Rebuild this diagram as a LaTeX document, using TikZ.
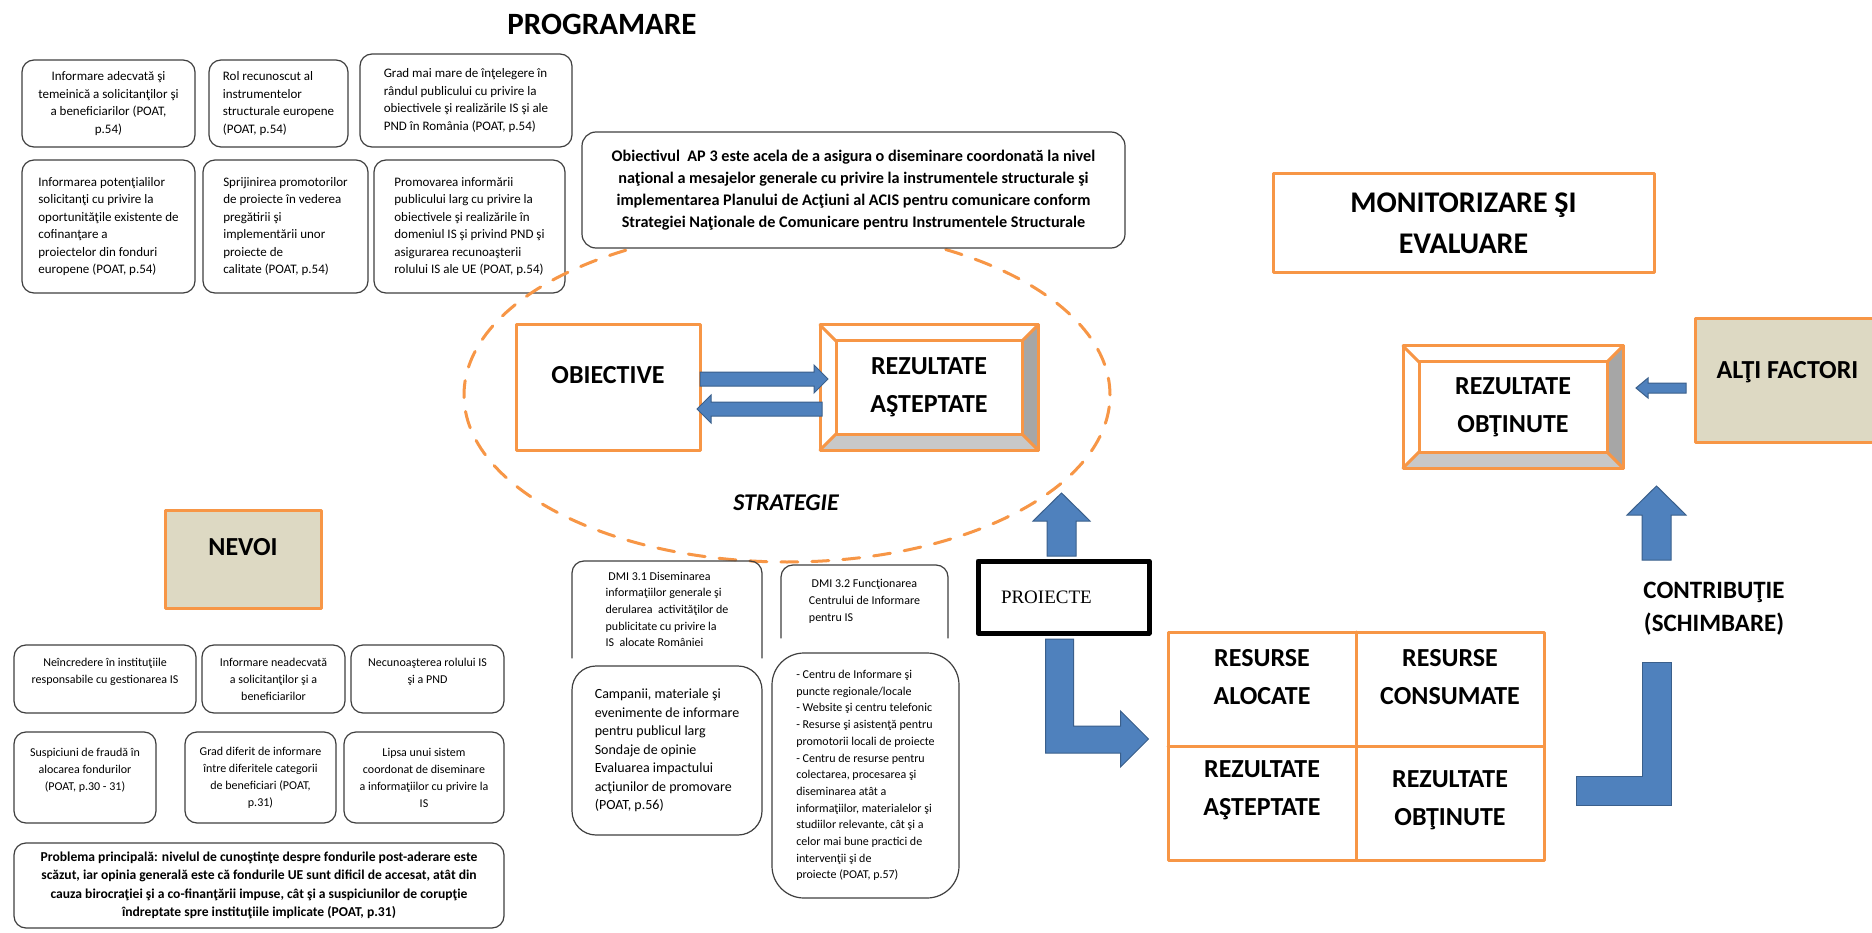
\documentclass[tikz,border=0pt]{standalone}
\usepackage{fontspec}
\setmainfont{Carlito}
\newfontfamily\projfont{Liberation Serif}
\usepackage{tikz}
\usetikzlibrary{calc}

\definecolor{boxorange}{HTML}{F79646}
\definecolor{arrowblue}{HTML}{4F81BD}
\definecolor{arrowedge}{HTML}{3A5F8B}
\definecolor{tanfill}{HTML}{DDD9C3}
\definecolor{bevelgray}{HTML}{A6A6A6}
\definecolor{bevellight}{HTML}{C8C8C8}
\definecolor{boxline}{HTML}{3F3F3F}

\newcommand{\smalltext}{\fontsize{13}{17.5}\selectfont}
\newcommand{\nevoitext}{\fontsize{12}{17}\selectfont}
\newcommand{\dmitext}{\fontsize{12}{16.7}\selectfont}
\newcommand{\bigbold}{\fontsize{26}{38}\selectfont\bfseries}

\tikzstyle{every node}=[outer sep=0pt]
\tikzstyle{every path}=[line cap=round,line join=round]
\tikzstyle{infobox}=[draw=boxline,line width=1.2pt,rounded corners=12pt,fill=white,font=\smalltext,inner sep=0pt]
\tikzstyle{orangebox}=[draw=boxorange,line width=3pt,fill=white,font=\bigbold,align=center,inner sep=0pt]
\tikzstyle{tanbox}=[orangebox,fill=tanfill]
\tikzstyle{orangeline}=[draw=boxorange,line width=3pt]
\tikzstyle{blockarrow}=[fill=arrowblue,draw=arrowedge,line width=1pt,line join=miter]

% bevelled frame round an orange box
\newcommand{\bevelframe}[1]{%
  \fill[bevelgray] (#1.north east) -- ($(#1.north east)+(-16,16)$)
    -- ($(#1.south east)+(-16,-16)$) -- (#1.south east) -- cycle;
  \fill[bevellight] (#1.south west) -- ($(#1.south west)+(16,-16)$)
    -- ($(#1.south east)+(-16,-16)$) -- (#1.south east) -- cycle;
  \draw[orangeline] (#1.north west) rectangle (#1.south east);
  \draw[orangeline] ($(#1.north west)+(16,16)$) rectangle ($(#1.south east)+(-16,-16)$);
  \draw[orangeline] (#1.north west) -- ++(16,16) (#1.north east) -- ++(-16,16)
    (#1.south west) -- ++(16,-16) (#1.south east) -- ++(-16,-16);
}

\begin{document}
\begin{tikzpicture}[x=1pt,y=-1pt]
  \fill[white] (0,0) rectangle (1872,933);
  \useasboundingbox (0,0) rectangle (1872,933);

  % Programare
  \node[font=\fontsize{31}{36}\selectfont\bfseries] (prog) at (602,24) {PROGRAMARE};

  \node[infobox,minimum width=173pt,minimum height=87pt,align=center] (a1) at (108.5,103.5)
  {Informare adecvată şi\\temeinică a solicitanţilor şi\\a beneficiarilor (POAT,\\p.54)};
  \node[infobox,minimum width=139pt,minimum height=87pt,align=left] (a2) at (278.5,103.5)
  {Rol recunoscut al\\instrumentelor\\structurale europene\\(POAT, p.54)};
  \node[infobox,minimum width=212pt,minimum height=93pt,align=left] (a3) at (466,100.5)
  {Grad mai mare de înţelegere în\\rândul publicului cu privire la\\obiectivele şi realizările IS şi ale\\PND în România (POAT, p.54)};

  \node[infobox,minimum width=173pt,minimum height=133pt,align=left] (b1) at (108.5,226.5)
  {Informarea potenţialilor\\solicitanţi cu privire la\\oportunităţile existente de\\cofinanţare a\\proiectelor din fonduri\\europene (POAT, p.54)};
  \node[infobox,minimum width=165pt,minimum height=133pt,align=left] (b2) at (285.5,226.5)
  {Sprijinirea promotorilor\\de proiecte în vederea\\pregătirii şi\\implementării unor\\proiecte de\\calitate (POAT, p.54)};
  \node[infobox,minimum width=191pt,minimum height=133pt,align=left] (b3) at (469.5,226.5)
  {Promovarea informării\\publicului larg cu privire la\\obiectivele şi realizările în\\domeniul IS şi privind PND şi\\asigurarea recunoaşterii\\rolului IS ale UE (POAT, p.54)};

  % Strategie
  \draw[boxorange,line width=3pt,dash pattern=on 17pt off 14pt]
  (787,395) ellipse [x radius=323pt,y radius=167pt];

  \node[infobox,rounded corners=14pt,minimum width=543pt,minimum height=116pt,align=center,
    font=\fontsize{16.2}{22}\selectfont\bfseries] (ap3) at (853.5,190)
  {Obiectivul\ \ AP 3 este acela de a asigura o diseminare coordonată la nivel\\naţional a mesajelor generale cu privire la instrumentele structurale şi\\implementarea Planului de Acţiuni al ACIS pentru comunicare conform\\Strategiei Naţionale de Comunicare pentru Instrumentele Structurale};

  \node[orangebox,minimum width=184pt,minimum height=125pt] (obj) at (608,387.5) {OBIECTIVE\\[-12pt]\mbox{}};
  \node[orangebox,minimum width=218pt,minimum height=125pt] (reza) at (929,387.5) {REZULTATE\\AŞTEPTATE};
  \bevelframe{reza}

  \draw[blockarrow] ($(obj.east)+(0,-15.5)$) -- ++(114,0) -- ++(0,-7) -- ++(14,14)
  -- ++(-14,14) -- ++(0,-7) -- ++(-114,0) -- cycle;
  \draw[blockarrow] ($(reza.west)+(2,14.5)$) -- ++(-111,0) -- ++(0,-7) -- ++(-14,14)
  -- ++(14,14) -- ++(0,-7) -- ++(111,0) -- cycle;

  \node[font=\fontsize{24}{28}\selectfont\bfseries\itshape] (strat) at (786,503) {STRATEGIE};

  % Nevoi
  \node[tanbox,minimum width=156pt,minimum height=98pt,font=\fontsize{26}{30}\selectfont\bfseries] (nevoi) at (243,559) {NEVOI\\[-6pt]\mbox{}};

  \node[infobox,font=\nevoitext,minimum width=182pt,minimum height=68pt,align=center] (c1) at (105,679)
  {Neîncredere în instituţiile\\responsabile cu gestionarea IS\\ \mbox{}};
  \node[infobox,font=\nevoitext,minimum width=143pt,minimum height=68pt,align=center] (c2) at (273.5,679)
  {Informare neadecvată\\a solicitanţilor şi a\\beneficiarilor};
  \node[infobox,font=\nevoitext,minimum width=153pt,minimum height=68pt,align=center] (c3) at (427.5,679)
  {Necunoaşterea rolului IS\\şi a PND\\ \mbox{}};

  \node[infobox,font=\nevoitext,minimum width=142pt,minimum height=91pt,align=center] (d1) at (85,777.5)
  {Suspiciuni de fraudă în\\alocarea fondurilor\\(POAT, p.30 - 31)\\ \mbox{}};
  \node[infobox,font=\nevoitext,minimum width=151pt,minimum height=91pt,align=center] (d2) at (260.5,777.5)
  {Grad diferit de informare\\între diferitele categorii\\de beneficiari (POAT,\\p.31)};
  \node[infobox,font=\nevoitext,minimum width=160pt,minimum height=91pt,align=center] (d3) at (424,777.5)
  {Lipsa unui sistem\\coordonat de diseminare\\a informaţiilor cu privire la\\IS};

  \node[infobox,minimum width=490pt,minimum height=85pt,align=center,
    font=\fontsize{13.6}{18.3}\selectfont\bfseries] (pb) at (259,885.5)
  {Problema principală: nivelul de cunoştinţe despre fondurile post-aderare este\\scăzut, iar opinia generală este că fondurile UE sunt dificil de accesat, atât din\\cauza birocraţiei şi a co-finanţării impuse, cât şi a suspiciunilor de corupţie\\îndreptate spre instituţiile implicate (POAT, p.31)};

  % DMI
  \node[font=\dmitext,align=left,minimum width=190pt,minimum height=97pt,inner sep=0pt] (f1) at (667,609.5)
  {\ DMI 3.1 Diseminarea\\informaţiilor generale şi\\derularea\ \ activităţilor de\\publicitate cu privire la\\IS\ \ alocate României};
  \draw[draw=boxline,line width=1.2pt,rounded corners=12pt]
  (f1.south west) -- (f1.north west) -- (f1.north east) -- (f1.south east);
  \node[font=\dmitext,align=left,minimum width=167pt,minimum height=73pt,inner sep=0pt] (f2) at (864.5,601.5)
  {\ DMI 3.2 Funcţionarea\\Centrului de Informare\\pentru IS};
  \draw[draw=boxline,line width=1.2pt,rounded corners=12pt]
  (f2.south west) -- (f2.north west) -- (f2.north east) -- (f2.south east);

  \node[infobox,rounded corners=24pt,font=\fontsize{14}{18.5}\selectfont,align=left,
    minimum width=190pt,minimum height=169pt] (g1) at (667,750.5)
  {Campanii, materiale şi\\evenimente de informare\\pentru publicul larg\\Sondaje de opinie\\Evaluarea impactului\\acţiunilor de promovare\\(POAT, p.56)};
  \node[infobox,rounded corners=32pt,font=\dmitext,align=left,
    minimum width=187pt,minimum height=245pt] (g2) at (865.5,775.5)
  {- Centru de Informare şi\\puncte regionale/locale\\- Website şi centru telefonic\\- Resurse şi asistenţă pentru\\promotorii locali de proiecte\\- Centru de resurse pentru\\colectarea, procesarea şi\\diseminarea atât a\\informaţiilor, materialelor şi\\studiilor relevante, cât şi a\\celor mai bune practici de\\intervenţii şi de\\proiecte (POAT, p.57)};

  % Proiecte
  \node[draw=black,line width=5pt,fill=white,minimum width=171pt,minimum height=72pt,
    text width=125pt,inner xsep=23pt,align=left,font=\projfont\fontsize{19}{22}\selectfont] (proj) at (1063.5,597) {PROIECTE};

  \draw[blockarrow] ($(proj.north)+(-16.5,-5)$) -- ++(0,-35) -- ++(-14,0) -- ++(28.5,-28)
  -- ++(28.5,28) -- ++(-14,0) -- ++(0,35) -- cycle;
  \draw[blockarrow] ($(proj.south)+(-18,6)$) -- ++(28,0) -- ++(0,87) -- ++(47,0) -- ++(0,-15)
  -- ++(28,28) -- ++(-28,28) -- ++(0,-14) -- ++(-75,0) -- cycle;

  % Resurse / rezultate
  \node[draw=boxorange,line width=3pt,minimum width=376pt,minimum height=228pt] (grid) at (1356,746) {};
  \draw[orangeline] (grid.north) -- (grid.south) (grid.west) -- (grid.east);
  \node[font=\bigbold,align=center] (ralo) at (1262,677) {RESURSE\\ALOCATE};
  \node[font=\bigbold,align=center] (rcons) at (1450,677) {RESURSE\\CONSUMATE};
  \node[font=\bigbold,align=center] (rzast) at (1262,790) {REZULTATE\\AŞTEPTATE};
  \node[font=\bigbold,align=center] (rzobt) at (1450,800) {REZULTATE\\OBŢINUTE};

  % Monitorizare si evaluare
  \node[orangebox,minimum width=381pt,minimum height=99pt,font=\fontsize{30}{41}\selectfont\bfseries] (moni) at (1463.5,223.5)
  {MONITORIZARE ŞI\\EVALUARE};

  \node[orangebox,minimum width=220pt,minimum height=122pt] (rezo) at (1513,407) {REZULTATE\\OBŢINUTE};
  \bevelframe{rezo}

  \node[tanbox,minimum width=185pt,minimum height=123pt] (alti) at (1787.5,380.5) {ALŢI FACTORI\\[-16pt]\mbox{}};
  \draw[blockarrow] ($(alti.west)+(-9,2.5)$) -- ++(-38,0) -- ++(0,-5) -- ++(-12,10)
  -- ++(12,10) -- ++(0,-5) -- ++(38,0) -- cycle;

  \node[font=\fontsize{25}{33}\selectfont\bfseries,align=center] (contrib) at (1714,608.5) {CONTRIBUŢIE\\(SCHIMBARE)};
  \coordinate (upfoot) at (1642,560);
  \coordinate (lfoot) at (1576,805);
  \draw[blockarrow] (upfoot) -- ++(0,-45) -- ++(-15,0) -- ++(29.5,-29) -- ++(29.5,29)
  -- ++(-15,0) -- ++(0,45) -- cycle;
  \draw[blockarrow] (lfoot) -- ++(0,-29) -- ++(66,0) -- ++(0,-114) -- ++(29,0) -- ++(0,143) -- cycle;
\end{tikzpicture}
\end{document}
